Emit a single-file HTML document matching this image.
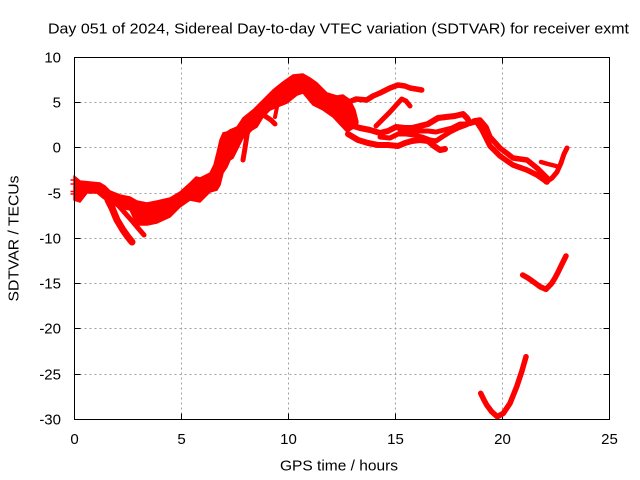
<!DOCTYPE html>
<html><head><meta charset="utf-8"><style>
html,body{margin:0;padding:0;background:#fff;}
svg{display:block;}
text{font-family:"Liberation Sans",Arial,sans-serif;font-size:15px;fill:#000;}
</style></head><body>
<svg width="640" height="480" viewBox="0 0 640 480" xmlns="http://www.w3.org/2000/svg">
<rect x="0" y="0" width="640" height="480" fill="#fff"/>
<!-- grid -->
<g stroke="#a0a0a0" stroke-width="1" stroke-dasharray="2,3" fill="none">
<line x1="181.5" y1="57.5" x2="181.5" y2="419.5"/>
<line x1="288.5" y1="57.5" x2="288.5" y2="419.5"/>
<line x1="395.5" y1="57.5" x2="395.5" y2="419.5"/>
<line x1="502.5" y1="57.5" x2="502.5" y2="419.5"/>
<line x1="74.5" y1="102.5" x2="609.5" y2="102.5"/>
<line x1="74.5" y1="147.5" x2="609.5" y2="147.5"/>
<line x1="74.5" y1="193.5" x2="609.5" y2="193.5"/>
<line x1="74.5" y1="238.5" x2="609.5" y2="238.5"/>
<line x1="74.5" y1="283.5" x2="609.5" y2="283.5"/>
<line x1="74.5" y1="328.5" x2="609.5" y2="328.5"/>
<line x1="74.5" y1="374.5" x2="609.5" y2="374.5"/>
</g>
<!-- ticks -->
<g stroke="#000" stroke-width="1">
<path d="M74.5 102.5h6M74.5 147.5h6M74.5 193.5h6M74.5 238.5h6M74.5 283.5h6M74.5 328.5h6M74.5 374.5h6"/>
<path d="M609.5 102.5h-6M609.5 147.5h-6M609.5 193.5h-6M609.5 238.5h-6M609.5 283.5h-6M609.5 328.5h-6M609.5 374.5h-6"/>
<path d="M181.5 419.5v-6M288.5 419.5v-6M395.5 419.5v-6M502.5 419.5v-6"/>
<path d="M181.5 57.5v6M288.5 57.5v6M395.5 57.5v6M502.5 57.5v6"/>
</g>
<!-- data -->
<g fill="#ff0000" stroke="#ff0000" stroke-linejoin="round" stroke-linecap="round">
<polygon stroke-width="1.5" points="74,176 80,181 90,182 100,183 105,186 110,191 120,195 130,197 137,201 147,203 157,201 170,198 180,192 190,183 196,177 200,178 210,173 214,165 217,153 220,140 223,133 227,132 230,130 237,127 243,118 253,110 263,100 273,90 283,82 293,75 303,74 310,78 317,83 327,93 337,96 343,95 350,100 355,110 358,122 357,126 347,132 333,117 323,110 313,105 303,93 297,95 287,103 277,107 270,110 263,117 257,127 252,130 247,135 243,138 237,150 233,158 230,160 227,167 223,173 220,185 217,190 210,192 200,202 190,200 180,207 170,217 157,223 147,225 137,225 130,210 120,208 110,203 103,198 97,193 87,193 80,202 74,200"/>
</g>
<g fill="none" stroke="#ff0000" stroke-linejoin="round" stroke-linecap="round">
<polyline stroke-width="7" points="108,200 112,208 117,220 123,230 128,237 132,242"/>
<polyline stroke-width="5" points="118,205 125,213 133,222 138,228 144,235"/>
<polyline stroke-width="5" points="250,122 247,135 245,148 243,160"/>
<polyline stroke-width="4" points="278,97 277,107 275,117"/>
<polyline stroke-width="5" points="265,116 271,120 275,124"/>
<!-- upper ~5-6 branch -->
<polyline stroke-width="5.5" points="350,101.5 356,99 366.7,100 373,96 380,93 390,88 398,85 405,86 410,88 416,89 421.7,90"/>
<polyline stroke-width="5" points="376,126 380,122 390,112 401.7,99 406,101 410,106"/>
<!-- middle cluster -->
<polyline stroke-width="6" points="350,125 360,128 370,130 380,133 388,131 396,127 405,128 412,128 420,126 428,124 433,121 438,118 446,117 455,116 463,114 467,118 470,123"/>
<polyline stroke-width="6" points="348,134 358,140 368,143 378,145 388,145 398,146 405,143 412,141 420,140 428,141 434,146 440,150 445,149"/>
<polyline stroke-width="5" points="380,137 390,138 398,134 406,134 414,135 422,137 430,140 436,141 442,137 450,132 458,128 466,125 474,121 480,120"/>
<polyline stroke-width="5" points="400,130 410,132 420,131 428,131 436,132 444,130 452,128 460,124 468,124 476,122"/>
<!-- descending -->
<polyline stroke-width="5.5" points="474,121 480,120 486,127 490,137 500,148 513,158 527,160 537,168 547,178"/>
<polyline stroke-width="5.5" points="478,124 482,130 490,146 500,156 513,165 527,170 537,175 547,182"/>
<polyline stroke-width="5" points="546,182 552,178 557,172 561,163 564,154 567,148"/>
<polyline stroke-width="4.5" points="541,162 548,164 556,166"/>
<!-- lower curves -->
<polyline stroke-width="5.5" points="522.7,275 528,278 533.3,281.7 540,286.7 546,289.3 551.7,283.3 555,278 558.3,271.7 562,264 566,256"/>
<polyline stroke-width="5.5" points="480.7,393.3 484,400 486.7,405 491.7,411.7 497.3,416.7 503.3,413.3 510,403.3 516.7,386.7 521.7,371.7 526,356.7"/>
<!-- marks left of axis -->
<g stroke-width="1.5" stroke-linecap="butt">
<path d="M70.5 180h4M70.5 184h4M70.5 191.5h4M70.5 194h4"/>
</g>
</g>
<!-- border -->
<rect x="74.5" y="57.5" width="535" height="362" fill="none" stroke="#000" stroke-width="1"/>
<!-- y tick labels -->
<g text-anchor="end">
<text x="61" y="62.5">10</text>
<text x="61" y="107.5">5</text>
<text x="61" y="152.5">0</text>
<text x="61" y="198.5">-5</text>
<text x="61" y="243.5">-10</text>
<text x="61" y="288.5">-15</text>
<text x="61" y="333.5">-20</text>
<text x="61" y="379.5">-25</text>
<text x="61" y="424.5">-30</text>
</g>
<!-- x tick labels -->
<g text-anchor="middle">
<text x="74.5" y="444">0</text>
<text x="181.5" y="444">5</text>
<text x="288.5" y="444">10</text>
<text x="395.5" y="444">15</text>
<text x="502.5" y="444">20</text>
<text x="609.5" y="444">25</text>
</g>
<text x="280" y="470.5" textLength="118" lengthAdjust="spacingAndGlyphs">GPS time / hours</text>
<text transform="translate(18.5,238.5) rotate(-90)" text-anchor="middle" textLength="126" lengthAdjust="spacingAndGlyphs">SDTVAR / TECUs</text>
<text x="48" y="33.3" textLength="581" lengthAdjust="spacingAndGlyphs">Day 051 of 2024, Sidereal Day-to-day VTEC variation (SDTVAR) for receiver exmt</text>
</svg>
</body></html>
